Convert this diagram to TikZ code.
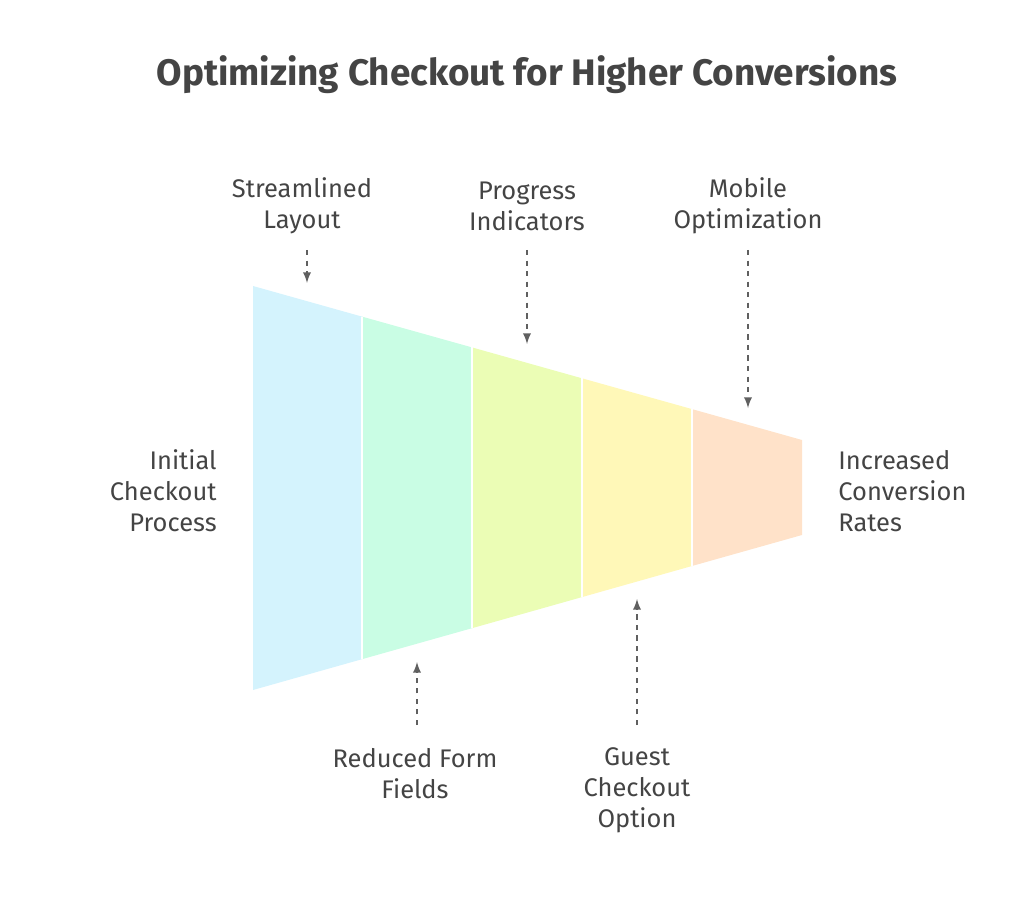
\documentclass[tikz,border=0pt]{standalone}
\usepackage{fontspec}
\setmainfont{Fira Sans}
\usetikzlibrary{positioning}
\definecolor{txt}{HTML}{444444}
\definecolor{segA}{HTML}{D4F3FD}
\definecolor{segB}{HTML}{C9FDE4}
\definecolor{segC}{HTML}{EBFDB5}
\definecolor{segD}{HTML}{FFF8B8}
\definecolor{segE}{HTML}{FFE2C9}
\tikzset{
  lbl/.style={text=txt, font=\fontsize{14.5}{17.6}\selectfont, align=center, inner sep=0pt},
  seg/.style={draw=white, line width=1.2pt},
  hint/.style={draw=txt!85, dashed, line width=1.1pt, -latex}
}
\begin{document}
\begin{tikzpicture}[x=0.02cm, y=-0.02cm]
\useasboundingbox (0,0) rectangle (1024,898);
\node[lbl, font=\fontsize{21}{25}\selectfont\bfseries] (title) at (527,75) {Optimizing Checkout for Higher Conversions};
% funnel segments
\fill[segA] (253,286) -- (362,316.6) -- (362,659.2) -- (253,690) -- cycle;
\fill[segB] (362,316.6) -- (472,347.4) -- (472,628.2) -- (362,659.2) -- cycle;
\fill[segC] (472,347.4) -- (582,378.3) -- (582,597.1) -- (472,628.2) -- cycle;
\fill[segD] (582,378.3) -- (692,409.1) -- (692,566) -- (582,597.1) -- cycle;
\fill[segE] (692,409.1) -- (802,440) -- (802,535) -- (692,566) -- cycle;
\foreach \x/\t/\b in {362/316.6/659.2, 472/347.4/628.2, 582/378.3/597.1, 692/409.1/566}
  \draw[seg] (\x,\t) -- (\x,\b);
% side labels
\node[lbl, align=right, anchor=east] (start) at (217,491) {Initial\\Checkout\\Process};
\node[lbl, align=left, anchor=west] (goal) at (838,491) {Increased\\Conversion\\Rates};
% top hints
\node[lbl] (layout) at (302,206) {Streamlined\\Layout};
\node[lbl] (progress) at (527,206) {Progress\\Indicators};
\node[lbl] (mobile) at (748,206) {Mobile\\Optimization};
\coordinate (layoutEnd) at (307,283);
\coordinate (progressEnd) at (527,344);
\coordinate (mobileEnd) at (748,408);
\draw[hint] (307,250) -- (layoutEnd);
\draw[hint] (527,250) -- (progressEnd);
\draw[hint] (748,250) -- (mobileEnd);
% bottom hints
\node[lbl] (fields) at (415,774) {Reduced Form\\Fields};
\node[lbl] (guest) at (637,790) {Guest\\Checkout\\Option};
\coordinate (fieldsEnd) at (417,662);
\coordinate (guestEnd) at (637,599);
\draw[hint] (417,725) -- (fieldsEnd);
\draw[hint] (637,725) -- (guestEnd);
\end{tikzpicture}
\end{document}
